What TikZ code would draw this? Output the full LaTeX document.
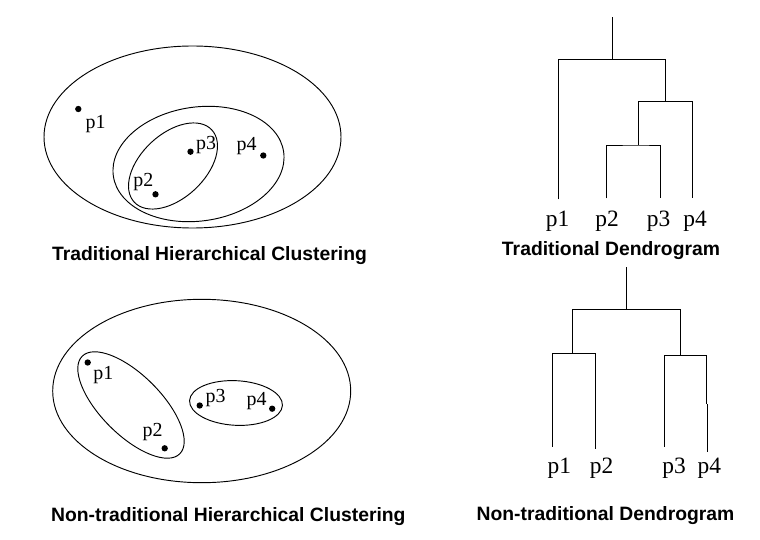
\documentclass[tikz,border=0pt]{standalone}
\usepackage{fontspec}
\setmainfont{Liberation Serif}
\setsansfont{Liberation Sans}
\begin{document}
\begin{tikzpicture}[x=0.03cm,y=-0.03cm,line width=0.8pt,
  pt/.style={circle,fill=black,inner sep=0pt,minimum size=1.9mm},
  lbl/.style={anchor=base,inner sep=0pt,font=\fontsize{17pt}{19pt}\selectfont},
  leaf/.style={anchor=base,inner sep=0pt,font=\fontsize{20pt}{22pt}\selectfont},
  ttl/.style={anchor=base,inner sep=0pt,font=\sffamily\bfseries\fontsize{16.5pt}{19pt}\selectfont}]
 \useasboundingbox (0,0) rectangle (760,540);
 \draw (192.5,137) ellipse [x radius=148.5,y radius=91];
 \draw[rotate around={8:(198.5,164)}] (198.5,164) ellipse [x radius=86,y radius=57];
 \draw[rotate around={43:(173,166)}] (173,166) ellipse [x radius=53,y radius=32];
 \node[pt] (a1) at (78.3,109) {};
 \node[pt] (a2) at (155.5,194.3) {};
 \node[pt] (a3) at (190.5,151.7) {};
 \node[pt] (a4) at (263.3,155.5) {};
 \node[lbl] (la1) at (95.5,128.5) {p1};
 \node[lbl] (la2) at (143.3,186.7) {p2};
 \node[lbl] (la3) at (206,150) {p3};
 \node[lbl] (la4) at (246.7,151) {p4};
 \node[ttl] (ta) at (209.5,260.7) {Traditional Hierarchical Clustering};
 \coordinate (t1) at (558.3,199.3);
 \coordinate (t2) at (606.7,198.3);
 \coordinate (t3) at (660.7,198.3);
 \coordinate (t4) at (692.3,198.3);
 \coordinate (m23) at (638.3,145);
 \coordinate (m234) at (665.7,101.7);
 \coordinate (m1234) at (612.7,59.3);
 \coordinate (rt) at (612.7,16.7);
 \draw (t2) |- (m23) -| (t3);
 \draw (m23) |- (m234) -| (t4);
 \draw (t1) |- (m1234) -| (m234);
 \draw (m1234) -- (rt);
 \node[leaf] (lt1) at (557.5,226.7) {p1};
 \node[leaf] (lt2) at (607,226.7) {p2};
 \node[leaf] (lt3) at (658.7,226.7) {p3};
 \node[leaf] (lt4) at (695,226.7) {p4};
 \node[ttl] (tt) at (611,255) {Traditional Dendrogram};
 \draw (201.7,391) ellipse [x radius=149,y radius=91.7];
 \draw[rotate around={-45:(131,405)}] (131,405) ellipse [x radius=69,y radius=30];
 \draw[rotate around={-3:(236,403)}] (236,403) ellipse [x radius=46.5,y radius=22.3];
 \node[pt] (c1) at (87.7,362.5) {};
 \node[pt] (c2) at (164.7,448.3) {};
 \node[pt] (c3) at (199.7,405.5) {};
 \node[pt] (c4) at (272.2,408.7) {};
 \node[lbl] (lc1) at (103.3,379.3) {p1};
 \node[lbl] (lc2) at (152.7,436.7) {p2};
 \node[lbl] (lc3) at (215.7,402.7) {p3};
 \node[lbl] (lc4) at (256.7,405) {p4};
 \node[ttl] (tc) at (228.3,521.7) {Non-traditional Hierarchical Clustering};
 \coordinate (b1) at (552.3,446.7);
 \coordinate (b2) at (595.3,449.3);
 \coordinate (b3) at (664.3,446.5);
 \coordinate (b4) at (707.3,451.7);
 \coordinate (b4a) at (706.3,404.3);
 \coordinate (m12) at (572.7,353.3);
 \coordinate (m34) at (680,355.7);
 \coordinate (r2) at (626.7,309.3);
 \coordinate (r2t) at (626.7,266.7);
 \draw (b1) |- (m12) -| (b2);
 \draw (b3) |- (m34) -| (b4a);
 \draw (b4) -- (b4 |- b4a);
 \draw (m12) |- (r2) -| (m34);
 \draw (r2) -- (r2t);
 \node[leaf] (lb1) at (559.3,473.3) {p1};
 \node[leaf] (lb2) at (601.7,473.3) {p2};
 \node[leaf] (lb3) at (674,473.3) {p3};
 \node[leaf] (lb4) at (709.3,473.3) {p4};
 \node[ttl] (tb) at (605.5,520) {Non-traditional Dendrogram};
\end{tikzpicture}
\end{document}
